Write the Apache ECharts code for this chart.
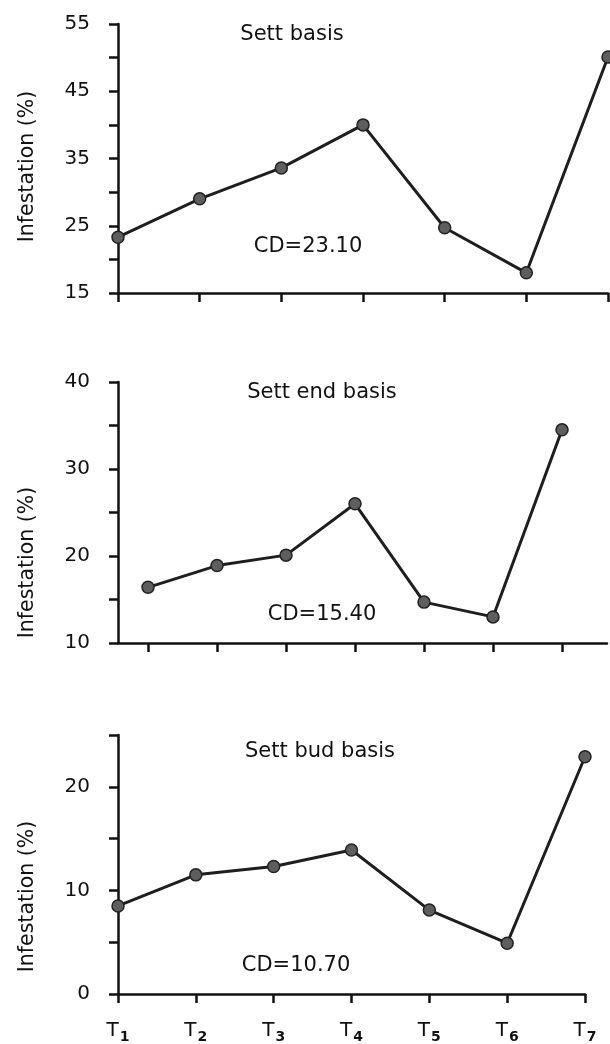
<!DOCTYPE html>
<html>
<head>
<meta charset="utf-8">
<title>Infestation</title>
<script src="https://cdn.jsdelivr.net/npm/echarts@6/dist/echarts.min.js"></script>
<style>
    html, body { margin: 0; padding: 0; background: #fff; }
    #myChart { width: 610px; height: 1044px; }
</style>
</head>
<body>
<div id="myChart"></div>
<script>
    // treatments on the x axis
    var categories = ['T1', 'T2', 'T3', 'T4', 'T5', 'T6', 'T7'];
    // infestation (%)
    var settBasis = [23.3, 29.0, 33.6, 40.0, 24.7, 18.0, 50.1];
    var settEndBasis = [16.4, 18.9, 20.1, 26.0, 14.7, 13.0, 34.5];
    var settBudBasis = [8.5, 11.5, 12.3, 13.9, 8.1, 4.9, 22.9];
    var panelTitles = ['Sett basis', 'Sett end basis', 'Sett bud basis'];
    var cdLabels = ['CD=23.10', 'CD=15.40', 'CD=10.70'];
    // y axis ranges and labelled ticks
    var yMins = [15, 10, 0];
    var yMaxs = [55, 40, 25];
    var yTickLabels = [[15, 25, 35, 45, 55], [10, 20, 30, 40], [0, 10, 20]];

    var FONT = '"DejaVu Sans", sans-serif';
    var INK = '#111';
    var tickPos = categories.map(function (c, i) { return i + 1; });

    function points(values) {
        return values.map(function (v, i) { return [i + 1, v]; });
    }

    var grids = [
        { left: 118, top: 24, width: 490, height: 269 },
        { left: 118, top: 382, width: 489, height: 261 },
        { left: 118, top: 735, width: 467, height: 263 }
    ];
    // panel 2 has its points set in from the y axis
    var xRanges = [[1, 7], [0.565, 7.652], [1, 7]];
    var namePads = [[0, 16, 0, 0], [0, 100, 0, 0], [0, 64, 0, 0]];
    var allSeries = [settBasis, settEndBasis, settBudBasis];

    var xAxes = [], yAxes = [], series = [];
    for (var k = 0; k < 3; k++) {
        xAxes.push({
            type: 'value',
            gridIndex: k,
            min: xRanges[k][0],
            max: xRanges[k][1],
            splitLine: { show: false },
            axisLine: { lineStyle: { color: INK, width: 2.5 } },
            axisTick: { customValues: tickPos, length: 9, lineStyle: { color: INK, width: 2.5 } },
            axisLabel: {
                show: k === 2,
                customValues: tickPos,
                margin: 24,
                formatter: function (v) {
                    var c = categories[Math.round(v) - 1] || '';
                    return '{t|' + c.charAt(0) + '}{s|' + c.slice(1) + '}';
                },
                rich: {
                    t: { fontFamily: FONT, fontSize: 20, color: INK },
                    s: { fontFamily: FONT, fontSize: 14, fontWeight: 'bold', color: INK, padding: [12, 0, 0, 1] }
                }
            }
        });
        (function (labels) {
            yAxes.push({
                type: 'value',
                gridIndex: k,
                min: yMins[k],
                max: yMaxs[k],
                interval: 5,
                name: 'Infestation (%)',
                nameLocation: 'middle',
                nameGap: 80,
                nameTextStyle: { fontFamily: FONT, fontSize: 20.5, color: INK, padding: namePads[k] },
                splitLine: { show: false },
                axisLine: { show: true, lineStyle: { color: INK, width: 2.5 } },
                axisTick: { show: true, length: 9, lineStyle: { color: INK, width: 2.5 } },
                axisLabel: {
                    margin: 28,
                    fontFamily: FONT,
                    fontSize: 20,
                    color: INK,
                    formatter: function (v) { return labels.indexOf(v) >= 0 ? String(v) : ''; }
                }
            });
        })(yTickLabels[k]);
        series.push({
            type: 'line',
            xAxisIndex: k,
            yAxisIndex: k,
            data: points(allSeries[k]),
            symbol: 'circle',
            symbolSize: 12,
            lineStyle: { color: '#1e1e1e', width: 3 },
            itemStyle: { color: '#5e5e5e', borderColor: '#222', borderWidth: 1.5 },
            animation: false
        });
    }

    // panel titles and CD values
    var textPos = [[292, 35], [322, 393], [320, 752]];
    var cdPos = [[308, 247], [322, 615], [296, 966]];
    var graphic = [];
    for (var j = 0; j < 3; j++) {
        graphic.push({ type: 'text', x: textPos[j][0], y: textPos[j][1],
            style: { text: panelTitles[j], font: '21px ' + FONT, fill: INK, align: 'center', verticalAlign: 'middle' } });
        graphic.push({ type: 'text', x: cdPos[j][0], y: cdPos[j][1],
            style: { text: cdLabels[j], font: '21px ' + FONT, fill: INK, align: 'center', verticalAlign: 'middle' } });
    }

    var myChart = echarts.init(document.getElementById('myChart'));
    myChart.setOption({
        backgroundColor: '#fff',
        animation: false,
        grid: grids,
        xAxis: xAxes,
        yAxis: yAxes,
        series: series,
        graphic: graphic
    });
</script>
</body>
</html>
